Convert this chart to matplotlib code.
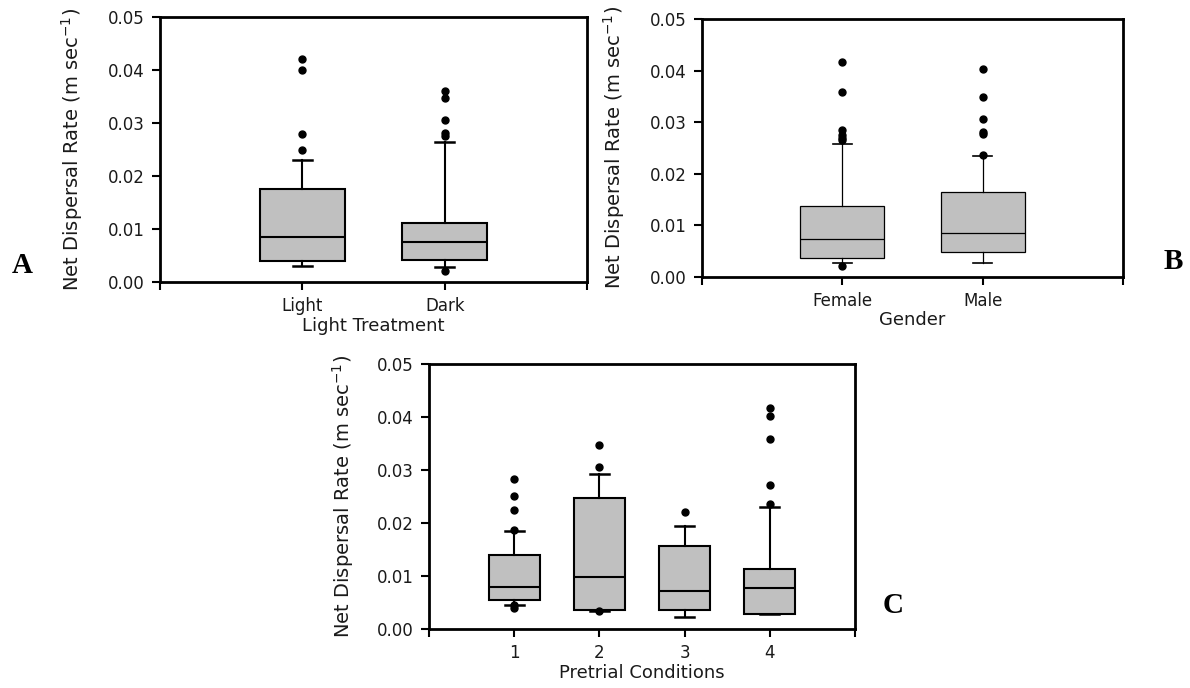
import numpy as np
import matplotlib
matplotlib.use("Agg")
import matplotlib.pyplot as plt
from matplotlib.ticker import FormatStrFormatter

# ---- data (box stats per group) ----
# panel A: light treatment
light_labels = ['Light', 'Dark']
light_med = [0.0084, 0.0075]
light_q1 = [0.0040, 0.0041]
light_q3 = [0.0175, 0.0111]
light_lo = [0.0030, 0.0028]
light_hi = [0.0230, 0.0264]
light_fliers = [[0.042, 0.040, 0.028, 0.025],
                [0.0360, 0.0348, 0.0306, 0.0281, 0.0275, 0.0021]]

# panel B: gender
gender_labels = ['Female', 'Male']
gender_med = [0.0074, 0.0085]
gender_q1 = [0.0036, 0.0049]
gender_q3 = [0.0138, 0.0164]
gender_lo = [0.0028, 0.0028]
gender_hi = [0.0257, 0.0234]
gender_fliers = [[0.0417, 0.0359, 0.0285, 0.0275, 0.0270, 0.0265, 0.0021],
                 [0.0404, 0.0348, 0.0307, 0.0281, 0.0277, 0.0236]]

# panel C: pretrial conditions
pre_labels = ['1', '2', '3', '4']
pre_med = [0.0080, 0.0098, 0.0072, 0.0078]
pre_q1 = [0.0054, 0.0035, 0.0035, 0.0028]
pre_q3 = [0.0140, 0.0248, 0.0156, 0.0113]
pre_lo = [0.0046, 0.0034, 0.0022, 0.0028]
pre_hi = [0.0184, 0.0293, 0.0194, 0.0231]
pre_fliers = [[0.0283, 0.0250, 0.0224, 0.0187, 0.0045, 0.0039],
              [0.0347, 0.0306, 0.0033],
              [0.0220],
              [0.0416, 0.0402, 0.0358, 0.0271, 0.0235]]

ylab = 'Net Dispersal Rate (m sec$^{-1}$)'
grey = '#c0c0c0'
txtcol = '#1a1a1a'


def make_stats(med, q1, q3, lo, hi, fliers):
    return [dict(med=m, q1=a, q3=b, whislo=l, whishi=h, fliers=f)
            for m, a, b, l, h, f in zip(med, q1, q3, lo, hi, fliers)]


def draw_panel(ax, stats, labels, xlabel, lw, capw, ylab_x):
    n = len(labels)
    pos = np.arange(1, n + 1)
    ax.bxp(stats, positions=pos, widths=0.6, patch_artist=True,
           capwidths=capw, manage_ticks=False,
           boxprops=dict(facecolor=grey, edgecolor='black', linewidth=lw),
           medianprops=dict(color='black', linewidth=lw),
           whiskerprops=dict(color='black', linewidth=lw),
           capprops=dict(color='black', linewidth=lw + 0.3),
           flierprops=dict(marker='o', markerfacecolor='black',
                           markeredgecolor='black', markersize=5))
    ax.set_xlim(0, n + 1)
    ax.set_ylim(0, 0.05)
    ax.set_xticks(np.arange(0, n + 2))
    ax.set_xticklabels([''] + labels + [''])
    ax.set_yticks(np.arange(0, 0.051, 0.01))
    ax.yaxis.set_major_formatter(FormatStrFormatter('%.2f'))
    ax.tick_params(axis='both', direction='out', length=6, width=1.5,
                   labelsize=12, color='black', labelcolor=txtcol)
    ax.tick_params(axis='y', pad=5)
    ax.tick_params(axis='x', pad=5)
    for s in ax.spines.values():
        s.set_linewidth(2.0)
    ax.set_ylabel(ylab, fontsize=14, color=txtcol)
    ax.yaxis.set_label_coords(ylab_x, 0.5)
    ax.yaxis.label.set_va('center')
    ax.set_xlabel(xlabel, fontsize=13, color=txtcol)
    ax.xaxis.set_label_coords(0.5, -0.165)
    ax.xaxis.label.set_va('center')


fig = plt.figure(figsize=(11.9, 6.88), dpi=100)
axA = fig.add_axes([0.1345, 0.5901, 0.3588, 0.3852])
axB = fig.add_axes([0.5899, 0.5974, 0.3538, 0.375])
axC = fig.add_axes([0.3605, 0.0858, 0.358, 0.3852])

draw_panel(axA, make_stats(light_med, light_q1, light_q3, light_lo, light_hi, light_fliers),
           light_labels, 'Light Treatment', 1.5, 0.135, -0.206)
draw_panel(axB, make_stats(gender_med, gender_q1, gender_q3, gender_lo, gender_hi, gender_fliers),
           gender_labels, 'Gender', 0.9, 0.135, -0.209)
draw_panel(axC, make_stats(pre_med, pre_q1, pre_q3, pre_lo, pre_hi, pre_fliers),
           pre_labels, 'Pretrial Conditions', 1.5, 0.22, -0.202)

for txt, x, y in [('A', 0.0185, 0.6134), ('B', 0.9857, 0.6206), ('C', 0.7504, 0.1206)]:
    fig.text(x, y, txt, fontsize=21, fontweight='bold', family='Liberation Serif',
             ha='center', va='center')

fig.savefig('out.png', dpi=100)
